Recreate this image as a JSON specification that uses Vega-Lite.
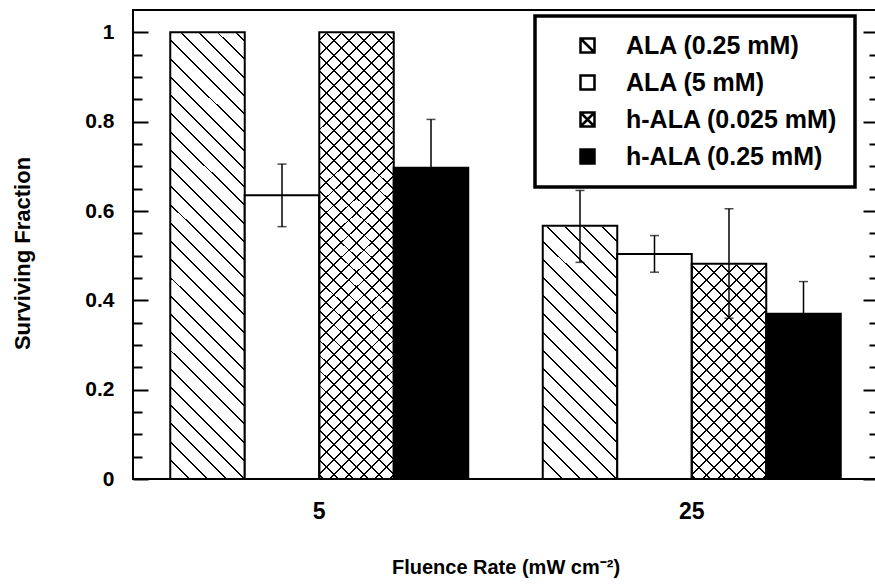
{
  "$schema": "https://vega.github.io/schema/vega-lite/v6.json",
  "width": 745,
  "height": 469,
  "autosize": {"type": "none"},
  "padding": {"left": 133, "top": 10, "right": 0, "bottom": 106},
  "background": "white",
  "config": {"view": {"stroke": "black", "strokeWidth": 2}, "font": "Liberation Sans", "legend": {"strokeWidth": 3.5}},
  "data": {"values": [
    {"rate": "5", "series": "ALA (0.25 mM)", "value": 1.0, "lo": null, "hi": null},
    {"rate": "5", "series": "ALA (5 mM)", "value": 0.635, "lo": 0.565, "hi": 0.705},
    {"rate": "5", "series": "h-ALA (0.025 mM)", "value": 1.0, "lo": null, "hi": null},
    {"rate": "5", "series": "h-ALA (0.25 mM)", "value": 0.697, "lo": 0.59, "hi": 0.805},
    {"rate": "25", "series": "ALA (0.25 mM)", "value": 0.567, "lo": 0.485, "hi": 0.646},
    {"rate": "25", "series": "ALA (5 mM)", "value": 0.504, "lo": 0.463, "hi": 0.545},
    {"rate": "25", "series": "h-ALA (0.025 mM)", "value": 0.482, "lo": 0.36, "hi": 0.605},
    {"rate": "25", "series": "h-ALA (0.25 mM)", "value": 0.37, "lo": 0.298, "hi": 0.442}
  ]},
  "encoding": {
    "x": {"field": "rate", "type": "nominal", "sort": ["5", "25"],
      "scale": {"domain": ["5", "25"], "paddingInner": 0.2, "paddingOuter": 0.1},
      "axis": {"domain": false, "ticks": false, "labelAngle": 0, "labelFont": "Liberation Sans", "labelFontSize": 23, "labelFontWeight": "bold", "labelColor": "black", "labelPadding": 21,
        "title": "Fluence Rate (mW cm⁻²)", "titleFont": "Liberation Sans", "titleFontSize": 20, "titleFontWeight": "bold", "titleColor": "black", "titlePadding": 34}},
    "xOffset": {"field": "series", "type": "nominal",
      "scale": {"domain": ["ALA (0.25 mM)", "ALA (5 mM)", "h-ALA (0.025 mM)", "h-ALA (0.25 mM)"], "paddingInner": 0, "paddingOuter": 0}}
  },
  "resolve": {"scale": {"y": "shared"}, "axis": {"y": "independent"}},
  "layer": [
    {
      "transform": [{"filter": "datum.series == 'ALA (0.25 mM)' || datum.series == 'h-ALA (0.025 mM)'"}],
      "mark": {"type": "bar", "strokeWidth": 0},
      "encoding": {
        "y": {"datum": 1, "type": "quantitative", "scale": {"domain": [0, 1.05], "nice": false, "zero": true},
          "axis": {"orient": "left", "values": [0, 0.2, 0.4, 0.6, 0.8, 1], "labels": false, "domain": false, "grid": false, "title": null,
            "ticks": true, "tickSize": 15, "offset": -15, "tickColor": "black", "tickWidth": 2}},
        "y2": {"datum": 0},
        "fill": {
          "condition": {"test": "datum.series == 'ALA (0.25 mM)'", "value": {"gradient": "linear", "x1": 1, "y1": 0, "x2": 0.8112, "y2": 1.1349, "stops": [
            {"offset": 0, "color": "#fff"},
            {"offset": 0.0156, "color": "#fff"}, {"offset": 0.0156, "color": "#000"}, {"offset": 0.0194, "color": "#000"}, {"offset": 0.0194, "color": "#fff"},
            {"offset": 0.0506, "color": "#fff"}, {"offset": 0.0506, "color": "#000"}, {"offset": 0.0544, "color": "#000"}, {"offset": 0.0544, "color": "#fff"},
            {"offset": 0.0856, "color": "#fff"}, {"offset": 0.0856, "color": "#000"}, {"offset": 0.0894, "color": "#000"}, {"offset": 0.0894, "color": "#fff"},
            {"offset": 0.1207, "color": "#fff"}, {"offset": 0.1207, "color": "#000"}, {"offset": 0.1245, "color": "#000"}, {"offset": 0.1245, "color": "#fff"},
            {"offset": 0.1557, "color": "#fff"}, {"offset": 0.1557, "color": "#000"}, {"offset": 0.1595, "color": "#000"}, {"offset": 0.1595, "color": "#fff"},
            {"offset": 0.1907, "color": "#fff"}, {"offset": 0.1907, "color": "#000"}, {"offset": 0.1945, "color": "#000"}, {"offset": 0.1945, "color": "#fff"},
            {"offset": 0.2257, "color": "#fff"}, {"offset": 0.2257, "color": "#000"}, {"offset": 0.2295, "color": "#000"}, {"offset": 0.2295, "color": "#fff"},
            {"offset": 0.2607, "color": "#fff"}, {"offset": 0.2607, "color": "#000"}, {"offset": 0.2645, "color": "#000"}, {"offset": 0.2645, "color": "#fff"},
            {"offset": 0.2957, "color": "#fff"}, {"offset": 0.2957, "color": "#000"}, {"offset": 0.2995, "color": "#000"}, {"offset": 0.2995, "color": "#fff"},
            {"offset": 0.3308, "color": "#fff"}, {"offset": 0.3308, "color": "#000"}, {"offset": 0.3346, "color": "#000"}, {"offset": 0.3346, "color": "#fff"},
            {"offset": 0.3658, "color": "#fff"}, {"offset": 0.3658, "color": "#000"}, {"offset": 0.3696, "color": "#000"}, {"offset": 0.3696, "color": "#fff"},
            {"offset": 0.4008, "color": "#fff"}, {"offset": 0.4008, "color": "#000"}, {"offset": 0.4046, "color": "#000"}, {"offset": 0.4046, "color": "#fff"},
            {"offset": 0.4358, "color": "#fff"}, {"offset": 0.4358, "color": "#000"}, {"offset": 0.4396, "color": "#000"}, {"offset": 0.4396, "color": "#fff"},
            {"offset": 0.4708, "color": "#fff"}, {"offset": 0.4708, "color": "#000"}, {"offset": 0.4746, "color": "#000"}, {"offset": 0.4746, "color": "#fff"},
            {"offset": 0.5059, "color": "#fff"}, {"offset": 0.5059, "color": "#000"}, {"offset": 0.5097, "color": "#000"}, {"offset": 0.5097, "color": "#fff"},
            {"offset": 0.5409, "color": "#fff"}, {"offset": 0.5409, "color": "#000"}, {"offset": 0.5447, "color": "#000"}, {"offset": 0.5447, "color": "#fff"},
            {"offset": 0.5759, "color": "#fff"}, {"offset": 0.5759, "color": "#000"}, {"offset": 0.5797, "color": "#000"}, {"offset": 0.5797, "color": "#fff"},
            {"offset": 0.6109, "color": "#fff"}, {"offset": 0.6109, "color": "#000"}, {"offset": 0.6147, "color": "#000"}, {"offset": 0.6147, "color": "#fff"},
            {"offset": 0.6459, "color": "#fff"}, {"offset": 0.6459, "color": "#000"}, {"offset": 0.6497, "color": "#000"}, {"offset": 0.6497, "color": "#fff"},
            {"offset": 0.6809, "color": "#fff"}, {"offset": 0.6809, "color": "#000"}, {"offset": 0.6847, "color": "#000"}, {"offset": 0.6847, "color": "#fff"},
            {"offset": 0.7160, "color": "#fff"}, {"offset": 0.7160, "color": "#000"}, {"offset": 0.7198, "color": "#000"}, {"offset": 0.7198, "color": "#fff"},
            {"offset": 0.7510, "color": "#fff"}, {"offset": 0.7510, "color": "#000"}, {"offset": 0.7548, "color": "#000"}, {"offset": 0.7548, "color": "#fff"},
            {"offset": 0.7860, "color": "#fff"}, {"offset": 0.7860, "color": "#000"}, {"offset": 0.7898, "color": "#000"}, {"offset": 0.7898, "color": "#fff"},
            {"offset": 0.8210, "color": "#fff"}, {"offset": 0.8210, "color": "#000"}, {"offset": 0.8248, "color": "#000"}, {"offset": 0.8248, "color": "#fff"},
            {"offset": 0.8560, "color": "#fff"}, {"offset": 0.8560, "color": "#000"}, {"offset": 0.8598, "color": "#000"}, {"offset": 0.8598, "color": "#fff"},
            {"offset": 0.8911, "color": "#fff"}, {"offset": 0.8911, "color": "#000"}, {"offset": 0.8949, "color": "#000"}, {"offset": 0.8949, "color": "#fff"},
            {"offset": 0.9261, "color": "#fff"}, {"offset": 0.9261, "color": "#000"}, {"offset": 0.9299, "color": "#000"}, {"offset": 0.9299, "color": "#fff"},
            {"offset": 0.9611, "color": "#fff"}, {"offset": 0.9611, "color": "#000"}, {"offset": 0.9649, "color": "#000"}, {"offset": 0.9649, "color": "#fff"},
            {"offset": 1, "color": "#fff"}
          ]}},
          "value": {"gradient": "linear", "x1": 1, "y1": 0, "x2": 0.8112, "y2": 1.1349, "stops": [
            {"offset": 0, "color": "#fff"},
            {"offset": 0.0125, "color": "#fff"}, {"offset": 0.0125, "color": "#000"}, {"offset": 0.0163, "color": "#000"}, {"offset": 0.0163, "color": "#fff"},
            {"offset": 0.0413, "color": "#fff"}, {"offset": 0.0413, "color": "#000"}, {"offset": 0.0451, "color": "#000"}, {"offset": 0.0451, "color": "#fff"},
            {"offset": 0.0700, "color": "#fff"}, {"offset": 0.0700, "color": "#000"}, {"offset": 0.0738, "color": "#000"}, {"offset": 0.0738, "color": "#fff"},
            {"offset": 0.0988, "color": "#fff"}, {"offset": 0.0988, "color": "#000"}, {"offset": 0.1026, "color": "#000"}, {"offset": 0.1026, "color": "#fff"},
            {"offset": 0.1276, "color": "#fff"}, {"offset": 0.1276, "color": "#000"}, {"offset": 0.1314, "color": "#000"}, {"offset": 0.1314, "color": "#fff"},
            {"offset": 0.1564, "color": "#fff"}, {"offset": 0.1564, "color": "#000"}, {"offset": 0.1602, "color": "#000"}, {"offset": 0.1602, "color": "#fff"},
            {"offset": 0.1851, "color": "#fff"}, {"offset": 0.1851, "color": "#000"}, {"offset": 0.1889, "color": "#000"}, {"offset": 0.1889, "color": "#fff"},
            {"offset": 0.2139, "color": "#fff"}, {"offset": 0.2139, "color": "#000"}, {"offset": 0.2177, "color": "#000"}, {"offset": 0.2177, "color": "#fff"},
            {"offset": 0.2427, "color": "#fff"}, {"offset": 0.2427, "color": "#000"}, {"offset": 0.2465, "color": "#000"}, {"offset": 0.2465, "color": "#fff"},
            {"offset": 0.2715, "color": "#fff"}, {"offset": 0.2715, "color": "#000"}, {"offset": 0.2753, "color": "#000"}, {"offset": 0.2753, "color": "#fff"},
            {"offset": 0.3002, "color": "#fff"}, {"offset": 0.3002, "color": "#000"}, {"offset": 0.3040, "color": "#000"}, {"offset": 0.3040, "color": "#fff"},
            {"offset": 0.3290, "color": "#fff"}, {"offset": 0.3290, "color": "#000"}, {"offset": 0.3328, "color": "#000"}, {"offset": 0.3328, "color": "#fff"},
            {"offset": 0.3578, "color": "#fff"}, {"offset": 0.3578, "color": "#000"}, {"offset": 0.3616, "color": "#000"}, {"offset": 0.3616, "color": "#fff"},
            {"offset": 0.3865, "color": "#fff"}, {"offset": 0.3865, "color": "#000"}, {"offset": 0.3903, "color": "#000"}, {"offset": 0.3903, "color": "#fff"},
            {"offset": 0.4153, "color": "#fff"}, {"offset": 0.4153, "color": "#000"}, {"offset": 0.4191, "color": "#000"}, {"offset": 0.4191, "color": "#fff"},
            {"offset": 0.4441, "color": "#fff"}, {"offset": 0.4441, "color": "#000"}, {"offset": 0.4479, "color": "#000"}, {"offset": 0.4479, "color": "#fff"},
            {"offset": 0.4729, "color": "#fff"}, {"offset": 0.4729, "color": "#000"}, {"offset": 0.4767, "color": "#000"}, {"offset": 0.4767, "color": "#fff"},
            {"offset": 0.5016, "color": "#fff"}, {"offset": 0.5016, "color": "#000"}, {"offset": 0.5054, "color": "#000"}, {"offset": 0.5054, "color": "#fff"},
            {"offset": 0.5304, "color": "#fff"}, {"offset": 0.5304, "color": "#000"}, {"offset": 0.5342, "color": "#000"}, {"offset": 0.5342, "color": "#fff"},
            {"offset": 0.5592, "color": "#fff"}, {"offset": 0.5592, "color": "#000"}, {"offset": 0.5630, "color": "#000"}, {"offset": 0.5630, "color": "#fff"},
            {"offset": 0.5880, "color": "#fff"}, {"offset": 0.5880, "color": "#000"}, {"offset": 0.5918, "color": "#000"}, {"offset": 0.5918, "color": "#fff"},
            {"offset": 0.6167, "color": "#fff"}, {"offset": 0.6167, "color": "#000"}, {"offset": 0.6205, "color": "#000"}, {"offset": 0.6205, "color": "#fff"},
            {"offset": 0.6455, "color": "#fff"}, {"offset": 0.6455, "color": "#000"}, {"offset": 0.6493, "color": "#000"}, {"offset": 0.6493, "color": "#fff"},
            {"offset": 0.6743, "color": "#fff"}, {"offset": 0.6743, "color": "#000"}, {"offset": 0.6781, "color": "#000"}, {"offset": 0.6781, "color": "#fff"},
            {"offset": 0.7031, "color": "#fff"}, {"offset": 0.7031, "color": "#000"}, {"offset": 0.7069, "color": "#000"}, {"offset": 0.7069, "color": "#fff"},
            {"offset": 0.7318, "color": "#fff"}, {"offset": 0.7318, "color": "#000"}, {"offset": 0.7356, "color": "#000"}, {"offset": 0.7356, "color": "#fff"},
            {"offset": 0.7606, "color": "#fff"}, {"offset": 0.7606, "color": "#000"}, {"offset": 0.7644, "color": "#000"}, {"offset": 0.7644, "color": "#fff"},
            {"offset": 0.7894, "color": "#fff"}, {"offset": 0.7894, "color": "#000"}, {"offset": 0.7932, "color": "#000"}, {"offset": 0.7932, "color": "#fff"},
            {"offset": 0.8182, "color": "#fff"}, {"offset": 0.8182, "color": "#000"}, {"offset": 0.8220, "color": "#000"}, {"offset": 0.8220, "color": "#fff"},
            {"offset": 0.8469, "color": "#fff"}, {"offset": 0.8469, "color": "#000"}, {"offset": 0.8507, "color": "#000"}, {"offset": 0.8507, "color": "#fff"},
            {"offset": 0.8757, "color": "#fff"}, {"offset": 0.8757, "color": "#000"}, {"offset": 0.8795, "color": "#000"}, {"offset": 0.8795, "color": "#fff"},
            {"offset": 0.9045, "color": "#fff"}, {"offset": 0.9045, "color": "#000"}, {"offset": 0.9083, "color": "#000"}, {"offset": 0.9083, "color": "#fff"},
            {"offset": 0.9333, "color": "#fff"}, {"offset": 0.9333, "color": "#000"}, {"offset": 0.9371, "color": "#000"}, {"offset": 0.9371, "color": "#fff"},
            {"offset": 0.9620, "color": "#fff"}, {"offset": 0.9620, "color": "#000"}, {"offset": 0.9658, "color": "#000"}, {"offset": 0.9658, "color": "#fff"},
            {"offset": 0.9908, "color": "#fff"}, {"offset": 0.9908, "color": "#000"}, {"offset": 0.9946, "color": "#000"}, {"offset": 0.9946, "color": "#fff"},
            {"offset": 1, "color": "#fff"}
          ]}
        }
      }
    },
    {
      "transform": [{"filter": "datum.series == 'h-ALA (0.025 mM)'"}],
      "mark": {"type": "bar", "strokeWidth": 0},
      "encoding": {
        "y": {"datum": 1, "type": "quantitative",
          "axis": {"orient": "left", "values": [0.05, 0.1, 0.15, 0.25, 0.3, 0.35, 0.45, 0.5, 0.55, 0.65, 0.7, 0.75, 0.85, 0.9, 0.95], "labels": false, "domain": false, "grid": false, "title": null,
            "ticks": true, "tickSize": 9, "offset": -9, "tickColor": "black", "tickWidth": 2}},
        "y2": {"datum": 0},
        "fill": {"value": {"gradient": "linear", "x1": 0, "y1": 0, "x2": 0.1888, "y2": 1.1349, "stops": [
            {"offset": 0, "color": "rgba(0,0,0,0)"},
            {"offset": 0.0125, "color": "rgba(0,0,0,0)"}, {"offset": 0.0125, "color": "#000"}, {"offset": 0.0163, "color": "#000"}, {"offset": 0.0163, "color": "rgba(0,0,0,0)"},
            {"offset": 0.0413, "color": "rgba(0,0,0,0)"}, {"offset": 0.0413, "color": "#000"}, {"offset": 0.0451, "color": "#000"}, {"offset": 0.0451, "color": "rgba(0,0,0,0)"},
            {"offset": 0.0700, "color": "rgba(0,0,0,0)"}, {"offset": 0.0700, "color": "#000"}, {"offset": 0.0738, "color": "#000"}, {"offset": 0.0738, "color": "rgba(0,0,0,0)"},
            {"offset": 0.0988, "color": "rgba(0,0,0,0)"}, {"offset": 0.0988, "color": "#000"}, {"offset": 0.1026, "color": "#000"}, {"offset": 0.1026, "color": "rgba(0,0,0,0)"},
            {"offset": 0.1276, "color": "rgba(0,0,0,0)"}, {"offset": 0.1276, "color": "#000"}, {"offset": 0.1314, "color": "#000"}, {"offset": 0.1314, "color": "rgba(0,0,0,0)"},
            {"offset": 0.1564, "color": "rgba(0,0,0,0)"}, {"offset": 0.1564, "color": "#000"}, {"offset": 0.1602, "color": "#000"}, {"offset": 0.1602, "color": "rgba(0,0,0,0)"},
            {"offset": 0.1851, "color": "rgba(0,0,0,0)"}, {"offset": 0.1851, "color": "#000"}, {"offset": 0.1889, "color": "#000"}, {"offset": 0.1889, "color": "rgba(0,0,0,0)"},
            {"offset": 0.2139, "color": "rgba(0,0,0,0)"}, {"offset": 0.2139, "color": "#000"}, {"offset": 0.2177, "color": "#000"}, {"offset": 0.2177, "color": "rgba(0,0,0,0)"},
            {"offset": 0.2427, "color": "rgba(0,0,0,0)"}, {"offset": 0.2427, "color": "#000"}, {"offset": 0.2465, "color": "#000"}, {"offset": 0.2465, "color": "rgba(0,0,0,0)"},
            {"offset": 0.2715, "color": "rgba(0,0,0,0)"}, {"offset": 0.2715, "color": "#000"}, {"offset": 0.2753, "color": "#000"}, {"offset": 0.2753, "color": "rgba(0,0,0,0)"},
            {"offset": 0.3002, "color": "rgba(0,0,0,0)"}, {"offset": 0.3002, "color": "#000"}, {"offset": 0.3040, "color": "#000"}, {"offset": 0.3040, "color": "rgba(0,0,0,0)"},
            {"offset": 0.3290, "color": "rgba(0,0,0,0)"}, {"offset": 0.3290, "color": "#000"}, {"offset": 0.3328, "color": "#000"}, {"offset": 0.3328, "color": "rgba(0,0,0,0)"},
            {"offset": 0.3578, "color": "rgba(0,0,0,0)"}, {"offset": 0.3578, "color": "#000"}, {"offset": 0.3616, "color": "#000"}, {"offset": 0.3616, "color": "rgba(0,0,0,0)"},
            {"offset": 0.3865, "color": "rgba(0,0,0,0)"}, {"offset": 0.3865, "color": "#000"}, {"offset": 0.3903, "color": "#000"}, {"offset": 0.3903, "color": "rgba(0,0,0,0)"},
            {"offset": 0.4153, "color": "rgba(0,0,0,0)"}, {"offset": 0.4153, "color": "#000"}, {"offset": 0.4191, "color": "#000"}, {"offset": 0.4191, "color": "rgba(0,0,0,0)"},
            {"offset": 0.4441, "color": "rgba(0,0,0,0)"}, {"offset": 0.4441, "color": "#000"}, {"offset": 0.4479, "color": "#000"}, {"offset": 0.4479, "color": "rgba(0,0,0,0)"},
            {"offset": 0.4729, "color": "rgba(0,0,0,0)"}, {"offset": 0.4729, "color": "#000"}, {"offset": 0.4767, "color": "#000"}, {"offset": 0.4767, "color": "rgba(0,0,0,0)"},
            {"offset": 0.5016, "color": "rgba(0,0,0,0)"}, {"offset": 0.5016, "color": "#000"}, {"offset": 0.5054, "color": "#000"}, {"offset": 0.5054, "color": "rgba(0,0,0,0)"},
            {"offset": 0.5304, "color": "rgba(0,0,0,0)"}, {"offset": 0.5304, "color": "#000"}, {"offset": 0.5342, "color": "#000"}, {"offset": 0.5342, "color": "rgba(0,0,0,0)"},
            {"offset": 0.5592, "color": "rgba(0,0,0,0)"}, {"offset": 0.5592, "color": "#000"}, {"offset": 0.5630, "color": "#000"}, {"offset": 0.5630, "color": "rgba(0,0,0,0)"},
            {"offset": 0.5880, "color": "rgba(0,0,0,0)"}, {"offset": 0.5880, "color": "#000"}, {"offset": 0.5918, "color": "#000"}, {"offset": 0.5918, "color": "rgba(0,0,0,0)"},
            {"offset": 0.6167, "color": "rgba(0,0,0,0)"}, {"offset": 0.6167, "color": "#000"}, {"offset": 0.6205, "color": "#000"}, {"offset": 0.6205, "color": "rgba(0,0,0,0)"},
            {"offset": 0.6455, "color": "rgba(0,0,0,0)"}, {"offset": 0.6455, "color": "#000"}, {"offset": 0.6493, "color": "#000"}, {"offset": 0.6493, "color": "rgba(0,0,0,0)"},
            {"offset": 0.6743, "color": "rgba(0,0,0,0)"}, {"offset": 0.6743, "color": "#000"}, {"offset": 0.6781, "color": "#000"}, {"offset": 0.6781, "color": "rgba(0,0,0,0)"},
            {"offset": 0.7031, "color": "rgba(0,0,0,0)"}, {"offset": 0.7031, "color": "#000"}, {"offset": 0.7069, "color": "#000"}, {"offset": 0.7069, "color": "rgba(0,0,0,0)"},
            {"offset": 0.7318, "color": "rgba(0,0,0,0)"}, {"offset": 0.7318, "color": "#000"}, {"offset": 0.7356, "color": "#000"}, {"offset": 0.7356, "color": "rgba(0,0,0,0)"},
            {"offset": 0.7606, "color": "rgba(0,0,0,0)"}, {"offset": 0.7606, "color": "#000"}, {"offset": 0.7644, "color": "#000"}, {"offset": 0.7644, "color": "rgba(0,0,0,0)"},
            {"offset": 0.7894, "color": "rgba(0,0,0,0)"}, {"offset": 0.7894, "color": "#000"}, {"offset": 0.7932, "color": "#000"}, {"offset": 0.7932, "color": "rgba(0,0,0,0)"},
            {"offset": 0.8182, "color": "rgba(0,0,0,0)"}, {"offset": 0.8182, "color": "#000"}, {"offset": 0.8220, "color": "#000"}, {"offset": 0.8220, "color": "rgba(0,0,0,0)"},
            {"offset": 0.8469, "color": "rgba(0,0,0,0)"}, {"offset": 0.8469, "color": "#000"}, {"offset": 0.8507, "color": "#000"}, {"offset": 0.8507, "color": "rgba(0,0,0,0)"},
            {"offset": 0.8757, "color": "rgba(0,0,0,0)"}, {"offset": 0.8757, "color": "#000"}, {"offset": 0.8795, "color": "#000"}, {"offset": 0.8795, "color": "rgba(0,0,0,0)"},
            {"offset": 0.9045, "color": "rgba(0,0,0,0)"}, {"offset": 0.9045, "color": "#000"}, {"offset": 0.9083, "color": "#000"}, {"offset": 0.9083, "color": "rgba(0,0,0,0)"},
            {"offset": 0.9333, "color": "rgba(0,0,0,0)"}, {"offset": 0.9333, "color": "#000"}, {"offset": 0.9371, "color": "#000"}, {"offset": 0.9371, "color": "rgba(0,0,0,0)"},
            {"offset": 0.9620, "color": "rgba(0,0,0,0)"}, {"offset": 0.9620, "color": "#000"}, {"offset": 0.9658, "color": "#000"}, {"offset": 0.9658, "color": "rgba(0,0,0,0)"},
            {"offset": 0.9908, "color": "rgba(0,0,0,0)"}, {"offset": 0.9908, "color": "#000"}, {"offset": 0.9946, "color": "#000"}, {"offset": 0.9946, "color": "rgba(0,0,0,0)"},
            {"offset": 1, "color": "rgba(0,0,0,0)"}
        ]}}
      }
    },
    {
      "transform": [{"filter": "datum.series == 'ALA (0.25 mM)' || datum.series == 'h-ALA (0.025 mM)'"}],
      "mark": {"type": "bar", "fill": "white", "stroke": "white", "strokeWidth": 2},
      "encoding": {
        "y": {"field": "value", "type": "quantitative", "axis": null},
        "y2": {"datum": 1}
      }
    },
    {
      "mark": {"type": "bar", "stroke": "black", "strokeWidth": 2},
      "encoding": {
        "y": {"field": "value", "type": "quantitative", "scale": {"domain": [0, 1.05], "nice": false, "zero": true},
          "axis": {"orient": "left", "values": [0, 0.2, 0.4, 0.6, 0.8, 1], "format": ".1~f",
            "domain": false, "grid": false, "ticks": false,
            "labelOverlap": false, "labelFlush": false, "labelPadding": 19,
            "labelFont": "Liberation Sans", "labelFontSize": 21, "labelFontWeight": "bold", "labelColor": "black",
            "title": "Surviving Fraction", "titleFont": "Liberation Sans", "titleFontSize": 22, "titleFontWeight": "bold", "titleColor": "black",
            "titleX": -111, "titleY": 243, "titleAngle": -90, "titleAlign": "center", "titleBaseline": "middle"}},
        "fill": {
          "condition": [{"test": "datum.series == 'h-ALA (0.25 mM)'", "value": "black"}, {"test": "datum.series == 'ALA (5 mM)'", "value": "white"}],
          "value": "rgba(0,0,0,0)"}
      }
    },
    {
      "mark": {"type": "point", "filled": true, "opacity": 0, "size": 1},
      "encoding": {
        "y": {"field": "value", "type": "quantitative", "axis": null},
        "fill": {"field": "series", "type": "nominal",
          "scale": {"domain": ["ALA (0.25 mM)", "ALA (5 mM)", "h-ALA (0.025 mM)", "h-ALA (0.25 mM)"], "range": ["white", "white", "white", "black"]},
          "legend": {"title": null, "orient": "none", "legendX": 402, "legendY": 6,
            "fillColor": "white", "strokeColor": "black", "padding": 17,
            "symbolSize": 196, "symbolOffset": 23, "labelOffset": 26, "rowPadding": 11,
            "symbolStrokeWidth": 2.5, "symbolOpacity": 1,
            "labelFont": "Liberation Sans", "labelFontSize": 25, "labelFontWeight": "bold", "labelColor": "black", "labelLimit": 400}},
        "stroke": {"field": "series", "type": "nominal",
          "scale": {"domain": ["ALA (0.25 mM)", "ALA (5 mM)", "h-ALA (0.025 mM)", "h-ALA (0.25 mM)"], "range": ["black", "black", "black", "black"]},
          "legend": {"title": null, "orient": "none", "legendX": 402, "legendY": 6,
            "fillColor": "white", "strokeColor": "black", "padding": 17,
            "symbolSize": 196, "symbolOffset": 23, "labelOffset": 26, "rowPadding": 11,
            "symbolStrokeWidth": 2.5, "symbolOpacity": 1,
            "labelFont": "Liberation Sans", "labelFontSize": 25, "labelFontWeight": "bold", "labelColor": "black", "labelLimit": 400}},
        "shape": {"field": "series", "type": "nominal",
          "scale": {"domain": ["ALA (0.25 mM)", "ALA (5 mM)", "h-ALA (0.025 mM)", "h-ALA (0.25 mM)"],
            "range": ["M-1,-1H1V1H-1Z M-1,-1L1,1", "square", "M-1,-1H1V1H-1Z M-1,-1L1,1 M1,-1L-1,1", "square"]},
          "legend": {"title": null, "orient": "none", "legendX": 402, "legendY": 6,
            "fillColor": "white", "strokeColor": "black", "padding": 17,
            "symbolSize": 196, "symbolOffset": 23, "labelOffset": 26, "rowPadding": 11,
            "symbolStrokeWidth": 2.5, "symbolOpacity": 1,
            "labelFont": "Liberation Sans", "labelFontSize": 25, "labelFontWeight": "bold", "labelColor": "black", "labelLimit": 400}},
        "strokeWidth": {"value": 2.5}
      }
    },
    {
      "transform": [{"filter": "isValid(datum.hi)"}],
      "mark": {"type": "rule", "color": "black", "strokeWidth": 1.5},
      "encoding": {
        "y": {"field": "lo", "type": "quantitative",
          "axis": {"orient": "right", "values": [0, 0.2, 0.4, 0.6, 0.8, 1], "labels": false, "domain": false, "grid": false, "title": null,
            "ticks": true, "tickSize": 15, "offset": -15, "tickColor": "black", "tickWidth": 2}},
        "y2": {"field": "hi"}
      }
    },
    {
      "transform": [{"filter": "isValid(datum.hi)"}],
      "mark": {"type": "tick", "color": "black", "size": 9, "thickness": 1.5},
      "encoding": {"y": {"field": "hi", "type": "quantitative",
        "axis": {"orient": "right", "values": [0.05, 0.1, 0.15, 0.25, 0.3, 0.35, 0.45, 0.5, 0.55, 0.65, 0.7, 0.75, 0.85, 0.9, 0.95], "labels": false, "domain": false, "grid": false, "title": null,
          "ticks": true, "tickSize": 9, "offset": -9, "tickColor": "black", "tickWidth": 2}}}
    },
    {
      "transform": [{"filter": "isValid(datum.lo)"}],
      "mark": {"type": "tick", "color": "black", "size": 9, "thickness": 1.5},
      "encoding": {"y": {"field": "lo", "type": "quantitative", "axis": null}}
    }
  ]
}
